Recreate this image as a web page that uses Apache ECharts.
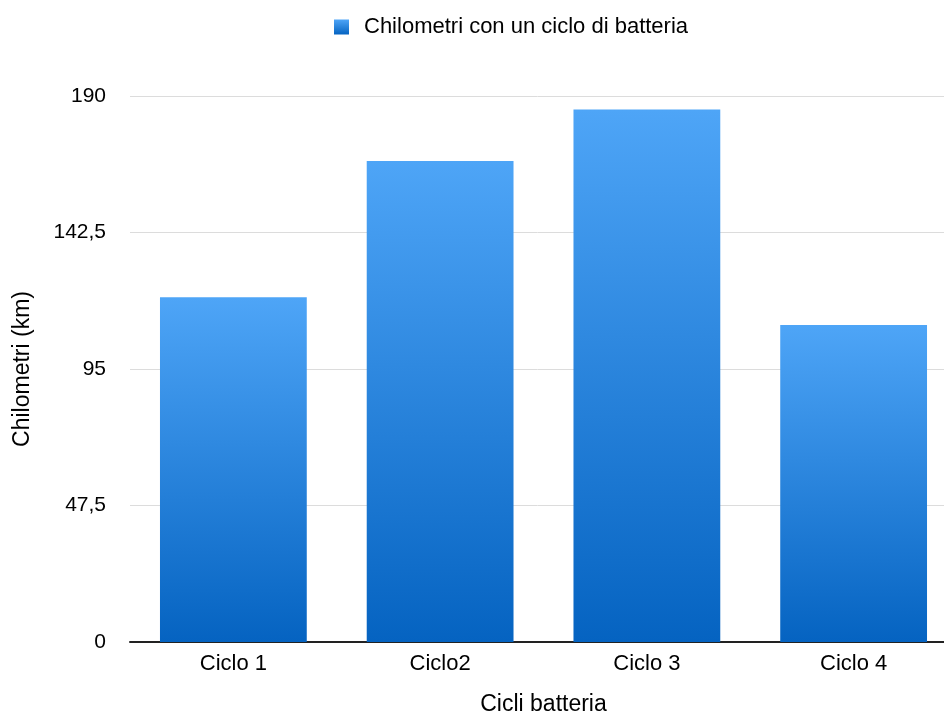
<!DOCTYPE html>
<html>
<head>
<meta charset="utf-8">
<script src="https://cdn.jsdelivr.net/npm/echarts@6/dist/echarts.min.js"></script>
<style>
  html, body { margin: 0; padding: 0; background: #fff; }
  #chart { width: 944px; height: 717px; }
</style>
</head>
<body>
<div id="chart"></div>
<script>
const categories = ['Ciclo 1', 'Ciclo2', 'Ciclo 3', 'Ciclo 4']
const kmValues = [120, 167.4, 185.3, 110.3]
const seriesName = 'Chilometri con un ciclo di batteria'

const barGradient = new echarts.graphic.LinearGradient(0, 0, 0, 1, [
  { offset: 0, color: '#4ea5f7' },
  { offset: 1, color: '#0563c1' }
])

const chart = echarts.init(document.getElementById('chart'))
chart.setOption({
  animation: false,
  backgroundColor: '#fff',
  textStyle: { fontFamily: 'Liberation Sans, Arial, sans-serif', color: '#000' },
  legend: {
    top: 11,
    left: 329,
    itemWidth: 15,
    itemHeight: 15,
    textStyle: { fontSize: 22, color: '#000', padding: [0, 0, 0, 10] },
    data: [{ name: seriesName, icon: 'rect' }]
  },
  grid: { left: 130, top: 96, width: 827, height: 546, outerBoundsMode: 'none' },
  xAxis: {
    type: 'category',
    data: categories,
    name: 'Cicli batteria',
    nameLocation: 'middle',
    nameGap: 51,
    nameTextStyle: { fontSize: 23, color: '#000' },
    axisLine: { lineStyle: { color: '#222', width: 2 } },
    axisTick: { show: false },
    axisLabel: { fontSize: 22, color: '#000', margin: 11 }
  },
  yAxis: {
    type: 'value',
    min: 0,
    max: 190,
    interval: 47.5,
    name: 'Chilometri (km)',
    nameLocation: 'middle',
    nameGap: 96,
    nameTextStyle: { fontSize: 23, color: '#000' },
    axisLine: { show: false },
    axisTick: { show: false },
    axisLabel: {
      fontSize: 21,
      color: '#000',
      margin: 24,
      formatter: (v) => String(v).replace('.', ',')
    },
    splitLine: { lineStyle: { color: '#dcdcdc', width: 1 } }
  },
  series: [
    {
      name: seriesName,
      type: 'bar',
      data: kmValues,
      barCategoryGap: '29%',
      itemStyle: { color: barGradient }
    }
  ]
})
</script>
</body>
</html>
